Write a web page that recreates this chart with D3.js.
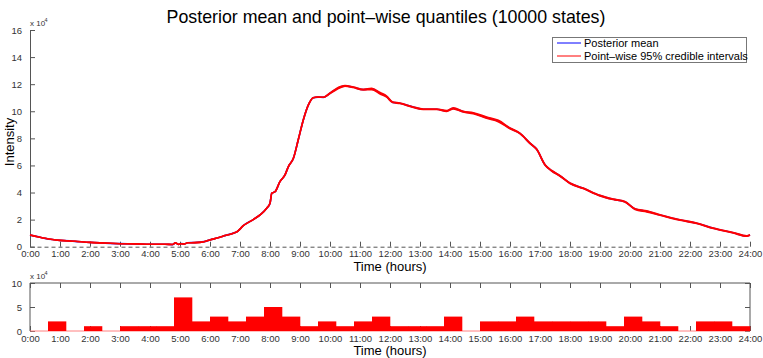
<!DOCTYPE html>
<html>
<head>
<meta charset="utf-8">
<script src="https://cdn.jsdelivr.net/npm/d3@7"></script>
<style>
  body { margin: 0; background: #fff; }
  svg text { font-family: "Liberation Sans", Arial, Helvetica, sans-serif; }
</style>
</head>
<body>
<div id="chart"></div>
<script>
// data (intensity in units of 10^4)
const hours = [0, 0.25, 0.5, 0.75, 1, 1.5, 2, 2.5, 3, 3.5, 4, 4.5, 4.75, 4.85, 4.95, 5.05, 5.15, 5.25, 5.5, 5.8,
  6, 6.3, 6.5, 6.78, 6.9, 7.11, 7.44, 7.7, 7.89, 8, 8.06, 8.17, 8.33, 8.5, 8.61, 8.78, 8.94, 9.11, 9.28, 9.44,
  9.6, 9.78, 10, 10.22, 10.5, 10.78, 11.11, 11.39, 11.67, 11.89, 12.09, 12.33, 12.78, 13.11, 13.56, 13.89, 14.11, 14.44, 14.78, 15.22,
  15.61, 16, 16.33, 16.67, 16.89, 17.17, 17.39, 17.67, 18, 18.44, 19, 19.44, 19.83, 20.17, 20.56, 21, 21.67, 22.22, 22.78, 23.44,
  23.89, 24];
const meanVals = [0.86, 0.74, 0.62, 0.53, 0.47, 0.40, 0.32, 0.27, 0.22, 0.21, 0.18, 0.18, 0.16, 0.28, 0.17, 0.22, 0.20, 0.29, 0.30, 0.37,
  0.50, 0.68, 0.82, 1.00, 1.10, 1.55, 2.00, 2.40, 2.84, 3.20, 3.95, 4.06, 4.80, 5.30, 5.90, 6.53, 7.88, 9.36, 10.47, 11.00,
  11.05, 11.03, 11.33, 11.65, 11.87, 11.77, 11.60, 11.65, 11.33, 11.08, 10.66, 10.59, 10.30, 10.15, 10.15, 10.02, 10.22, 9.97, 9.85, 9.53,
  9.28, 8.74, 8.37, 7.63, 7.19, 6.03, 5.61, 5.22, 4.68, 4.31, 3.77, 3.50, 3.32, 2.78, 2.61, 2.34, 1.97, 1.73, 1.36, 1.03,
  0.79, 0.86];
// half width of the 95% interval, read where the blue line peeks out
const ciSpread = [0, 0, 0, 0, 0, 0, 0, 0, 0, 0, 0, 0, 0, 0, 0, 0, 0, 0, 0, 0,
  0, 0, 0, 0, 0, 0, 0, 0, 0, 0, 0, 0, 0, 0, 0, 0, 0, 0, 0, 0,
  0, 0, 0.03, 0.04, 0.02, 0.02, 0.03, 0.05, 0.05, 0.04, 0.02, 0.02, 0.02, 0.02, 0.02, 0.03, 0.04, 0.03, 0.03, 0.05,
  0.05, 0.03, 0.02, 0.02, 0.02, 0.02, 0.02, 0.02, 0.02, 0.02, 0.02, 0.02, 0.02, 0.03, 0.04, 0.02, 0.02, 0.02, 0.02, 0.02,
  0.02, 0.02];

// histogram of states, 40 bins of 0.6 h (units of 10^4)
const binStarts = [0, 0.6, 1.2, 1.8, 2.4, 3.0, 3.6, 4.2, 4.8, 5.4, 6.0, 6.6, 7.2, 7.8, 8.4, 9.0, 9.6, 10.2, 10.8, 11.4,
  12.0, 12.6, 13.2, 13.8, 14.4, 15.0, 15.6, 16.2, 16.8, 17.4, 18.0, 18.6, 19.2, 19.8, 20.4, 21.0, 21.6, 22.2, 22.8, 23.4];
const binCounts = [0, 2, 0, 1, 0, 1, 1, 1, 7, 2, 3, 2, 3, 5, 3, 1, 2, 1, 2, 3,
  1, 1, 1, 3, 0, 2, 2, 3, 2, 2, 2, 2, 1, 3, 2, 1, 0, 2, 2, 1];
const binWidth = 0.6;

const hourTicks = d3.range(0, 25);
const topYTicks = [0, 2, 4, 6, 8, 10, 12, 14, 16];
const bottomYTicks = [0, 5, 10];

const W = 763, H = 358;
const svg = d3.select("#chart").append("svg").attr("width", W).attr("height", H);

const axisColor = "#555";
const fmtHour = h => h + ":00";

// 上圖
const x = d3.scaleLinear().domain([0, 24]).range([30, 750]);
const y = d3.scaleLinear().domain([0, 16]).range([246.7, 30]);

svg.append("text").attr("x", 386).attr("y", 23).attr("text-anchor", "middle")
  .attr("font-size", 17.8).attr("fill", "#000")
  .text("Posterior mean and point\u2013wise quantiles (10000 states)");

// y axis
const gy = svg.append("g").attr("transform", "translate(30,0)")
  .call(d3.axisLeft(y).tickValues(topYTicks).tickSizeInner(-5).tickSizeOuter(0).tickPadding(8));
gy.select(".domain").attr("stroke", axisColor);
gy.selectAll(".tick line").attr("stroke", axisColor);
gy.selectAll(".tick text").attr("font-size", 9.5).attr("fill", "#333").attr("font-family", "Liberation Sans, Arial, sans-serif");

// x axis (dashed)
const gx = svg.append("g").attr("transform", "translate(0,246.7)")
  .call(d3.axisBottom(x).tickValues(hourTicks).tickFormat(fmtHour).tickSizeInner(-5).tickSizeOuter(0).tickPadding(4));
gx.select(".domain").attr("stroke", axisColor).attr("stroke-dasharray", "4,3");
gx.selectAll(".tick line").attr("stroke", axisColor);
gx.selectAll(".tick text").attr("font-size", 9.5).attr("fill", "#333").attr("font-family", "Liberation Sans, Arial, sans-serif");

svg.append("text").attr("x", 30).attr("y", 26).attr("font-size", 8).attr("fill", "#333").text("x 10");
svg.append("text").attr("x", 44.5).attr("y", 21.5).attr("font-size", 5.5).attr("fill", "#333").text("4");

svg.append("text").attr("transform", "translate(14,142) rotate(-90)").attr("text-anchor", "middle")
  .attr("font-size", 13).attr("fill", "#000").text("Intensity");
svg.append("text").attr("x", 390).attr("y", 271).attr("text-anchor", "middle")
  .attr("font-size", 13).attr("fill", "#000").text("Time (hours)");

const pts = hours.map((h, i) => ({ h, m: meanVals[i], lo: meanVals[i] - ciSpread[i], hi: meanVals[i] + ciSpread[i] }));
const lineOf = key => d3.line().x(d => x(d.h)).y(d => y(d[key])).curve(d3.curveMonotoneX);

svg.append("path").datum(pts).attr("d", lineOf("m")).attr("fill", "none")
  .attr("stroke", "#2020ff").attr("stroke-width", 1.7);
svg.append("path").datum(pts).attr("d", lineOf("lo")).attr("fill", "none")
  .attr("stroke", "#ff0000").attr("stroke-width", 1.6);
svg.append("path").datum(pts).attr("d", lineOf("hi")).attr("fill", "none")
  .attr("stroke", "#ff0000").attr("stroke-width", 1.6);

// legend
const lg = svg.append("g");
lg.append("rect").attr("x", 552.5).attr("y", 37.5).attr("width", 194).attr("height", 25)
  .attr("fill", "#fff").attr("stroke", "#777").attr("stroke-width", 1);
lg.append("line").attr("x1", 557).attr("x2", 581).attr("y1", 43).attr("y2", 43).attr("stroke", "#0000ff");
lg.append("line").attr("x1", 557).attr("x2", 581).attr("y1", 56).attr("y2", 56).attr("stroke", "#ff0000");
lg.append("text").attr("x", 584).attr("y", 47).attr("font-size", 11).attr("fill", "#000").text("Posterior mean");
lg.append("text").attr("x", 584).attr("y", 60).attr("font-size", 11).attr("fill", "#000").text("Point\u2013wise 95% credible intervals");

// 下圖 histogram: axes first so the bars hide the ticks
const y2 = d3.scaleLinear().domain([0, 10]).range([331, 283]);

const by = svg.append("g").attr("transform", "translate(30,0)")
  .call(d3.axisLeft(y2).tickValues(bottomYTicks).tickSizeInner(-5).tickSizeOuter(0).tickPadding(8));
by.selectAll(".tick line").attr("stroke", axisColor);
by.select(".domain").remove();
by.selectAll(".tick text").attr("font-size", 9.5).attr("fill", "#333").attr("font-family", "Liberation Sans, Arial, sans-serif");

const byr = svg.append("g").attr("transform", "translate(750,0)")
  .call(d3.axisRight(y2).tickValues(bottomYTicks).tickSizeInner(-5).tickSizeOuter(0).tickFormat(""));
byr.selectAll(".tick line").attr("stroke", axisColor);
byr.select(".domain").remove();

const bx = svg.append("g").attr("transform", "translate(0,331)")
  .call(d3.axisBottom(x).tickValues(hourTicks).tickFormat(fmtHour).tickSizeInner(-5).tickSizeOuter(0).tickPadding(4));
bx.select(".domain").remove();
bx.selectAll(".tick line").attr("stroke", axisColor);
bx.selectAll(".tick text").attr("font-size", 9.5).attr("fill", "#333").attr("font-family", "Liberation Sans, Arial, sans-serif");

const bxt = svg.append("g").attr("transform", "translate(0,283)")
  .call(d3.axisTop(x).tickValues(hourTicks).tickSizeInner(-5).tickSizeOuter(0).tickFormat(""));
bxt.select(".domain").remove();
bxt.selectAll(".tick line").attr("stroke", axisColor);

svg.append("path").attr("d", "M30,331V283H750V331").attr("fill", "none").attr("stroke", axisColor).attr("stroke-width", 1);

svg.append("line").attr("x1", x(0)).attr("x2", x(24)).attr("y1", y2(0)).attr("y2", y2(0))
  .attr("stroke", "#ff8080").attr("stroke-width", 1);

svg.append("g").selectAll("rect").data(binStarts.map((s, i) => ({ s, c: binCounts[i] })))
  .join("rect")
  .attr("x", d => x(d.s))
  .attr("width", d => x(d.s + binWidth) - x(d.s) + 0.3)
  .attr("y", d => y2(d.c))
  .attr("height", d => y2(0) - y2(d.c))
  .attr("fill", "#ff0000");

svg.append("text").attr("x", 30).attr("y", 279).attr("font-size", 8).attr("fill", "#333").text("x 10");
svg.append("text").attr("x", 44.5).attr("y", 274.5).attr("font-size", 5.5).attr("fill", "#333").text("4");

svg.append("text").attr("x", 390).attr("y", 355).attr("text-anchor", "middle")
  .attr("font-size", 13).attr("fill", "#000").text("Time (hours)");
</script>
</body>
</html>
